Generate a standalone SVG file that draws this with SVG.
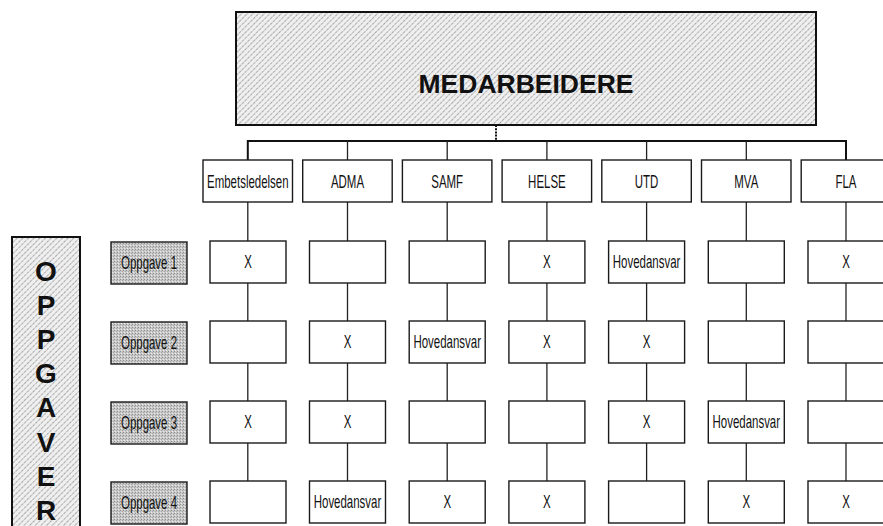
<svg xmlns="http://www.w3.org/2000/svg" width="883" height="526" viewBox="0 0 883 526">
<defs>
<pattern id="hatch" width="4" height="4" patternUnits="userSpaceOnUse" patternTransform="rotate(45)">
<rect width="4" height="4" fill="#efefef"/>
<line x1="0" y1="0" x2="0" y2="4" stroke="#7a7a7a" stroke-width="1.2" stroke-dasharray="2.5,1"/>
</pattern>
<pattern id="stipple" width="3" height="3" patternUnits="userSpaceOnUse">
<rect width="3" height="3" fill="#c8c8c8"/>
<rect x="0" y="0" width="1" height="1" fill="#8e8e8e"/>
<rect x="2" y="1" width="1" height="1" fill="#a6a6a6"/>
<rect x="1" y="2" width="1" height="1" fill="#ececec"/>
</pattern>
</defs>
<style>
.big{fill:url(#hatch);stroke:#111;stroke-width:2}
.box{fill:#fff;stroke:#1a1a1a;stroke-width:1.4}
.lbl{fill:url(#stipple);stroke:#1a1a1a;stroke-width:1.4}
.t{font-family:"Liberation Sans",Arial,sans-serif;font-size:18.5px;fill:#111;text-anchor:middle}
.h{font-family:"Liberation Sans",Arial,sans-serif;font-weight:bold;fill:#111;text-anchor:middle}
.c{stroke:#222;stroke-width:1.3;fill:none}
.ct{stroke:#111;stroke-width:2;fill:none}
</style>

<g id="medarbeidere">
<rect class="big" x="236" y="12" width="580" height="113"/>
<text class="h" x="526" y="93" font-size="26.5">MEDARBEIDERE</text>
</g>

<g id="oppgaver">
<rect class="big" x="12" y="237" width="68" height="300"/>
<text class="h" x="46" font-size="28"><tspan x="46" y="281">O</tspan><tspan x="46" y="315">P</tspan><tspan x="46" y="349">P</tspan><tspan x="46" y="383">G</tspan><tspan x="46" y="417">A</tspan><tspan x="46" y="452">V</tspan><tspan x="46" y="486">E</tspan><tspan x="46" y="520">R</tspan></text>
</g>

<g id="connectors">
<line class="ct" x1="496" y1="125" x2="496" y2="141" stroke-dasharray="2,1.2"/>
<polyline class="ct" points="247.8,161 247.8,141 846,141 846,161"/>
<line class="c" x1="347.5" y1="141" x2="347.5" y2="160"/>
<line class="c" x1="447.2" y1="141" x2="447.2" y2="160"/>
<line class="c" x1="546.9" y1="141" x2="546.9" y2="160"/>
<line class="c" x1="646.6" y1="141" x2="646.6" y2="160"/>
<line class="c" x1="746.3" y1="141" x2="746.3" y2="160"/>
<line class="c" x1="247.8" y1="202" x2="247.8" y2="481"/>
<line class="c" x1="347.5" y1="202" x2="347.5" y2="481"/>
<line class="c" x1="447.2" y1="202" x2="447.2" y2="481"/>
<line class="c" x1="546.9" y1="202" x2="546.9" y2="481"/>
<line class="c" x1="646.6" y1="202" x2="646.6" y2="481"/>
<line class="c" x1="746.3" y1="202" x2="746.3" y2="481"/>
<line class="c" x1="846" y1="202" x2="846" y2="481"/>
</g>

<g id="dept-embetsledelsen"><rect class="box" x="203" y="160" width="89.5" height="42"/><text class="t" transform="translate(247.8,187.5) scale(0.62,1)">Embetsledelsen</text></g>
<g id="dept-adma"><rect class="box" x="302.7" y="160" width="89.5" height="42"/><text class="t" transform="translate(347.5,187.5) scale(0.62,1)">ADMA</text></g>
<g id="dept-samf"><rect class="box" x="402.4" y="160" width="89.5" height="42"/><text class="t" transform="translate(447.2,187.5) scale(0.62,1)">SAMF</text></g>
<g id="dept-helse"><rect class="box" x="502.1" y="160" width="89.5" height="42"/><text class="t" transform="translate(546.9,187.5) scale(0.62,1)">HELSE</text></g>
<g id="dept-utd"><rect class="box" x="601.8" y="160" width="89.5" height="42"/><text class="t" transform="translate(646.6,187.5) scale(0.62,1)">UTD</text></g>
<g id="dept-mva"><rect class="box" x="701.5" y="160" width="89.5" height="42"/><text class="t" transform="translate(746.3,187.5) scale(0.62,1)">MVA</text></g>
<g id="dept-fla"><rect class="box" x="801.2" y="160" width="89.5" height="42"/><text class="t" transform="translate(846,187.5) scale(0.62,1)">FLA</text></g>

<g id="oppgave-1"><rect class="lbl" x="111" y="242" width="76" height="42"/><text class="t" transform="translate(149,268.5) scale(0.62,1)">Oppgave 1</text></g>
<g id="oppgave-2"><rect class="lbl" x="111" y="322" width="76" height="42"/><text class="t" transform="translate(149,348.5) scale(0.62,1)">Oppgave 2</text></g>
<g id="oppgave-3"><rect class="lbl" x="111" y="402" width="76" height="42"/><text class="t" transform="translate(149,428.5) scale(0.62,1)">Oppgave 3</text></g>
<g id="oppgave-4"><rect class="lbl" x="111" y="482" width="76" height="42"/><text class="t" transform="translate(149,508.5) scale(0.62,1)">Oppgave 4</text></g>

<g id="r1-emb"><rect class="box" x="210" y="241" width="76" height="42"/><text class="t" transform="translate(248,268) scale(0.62,1)">X</text></g>
<g id="r1-adma"><rect class="box" x="309.5" y="241" width="76" height="42"/></g>
<g id="r1-samf"><rect class="box" x="409.2" y="241" width="76" height="42"/></g>
<g id="r1-helse"><rect class="box" x="508.9" y="241" width="76" height="42"/><text class="t" transform="translate(546.9,268) scale(0.62,1)">X</text></g>
<g id="r1-utd"><rect class="box" x="608.6" y="241" width="76" height="42"/><text class="t" transform="translate(646.6,268) scale(0.62,1)">Hovedansvar</text></g>
<g id="r1-mva"><rect class="box" x="708.3" y="241" width="76" height="42"/></g>
<g id="r1-fla"><rect class="box" x="808" y="241" width="76" height="42"/><text class="t" transform="translate(846,268) scale(0.62,1)">X</text></g>

<g id="r2-emb"><rect class="box" x="210" y="321" width="76" height="42"/></g>
<g id="r2-adma"><rect class="box" x="309.5" y="321" width="76" height="42"/><text class="t" transform="translate(347.5,348) scale(0.62,1)">X</text></g>
<g id="r2-samf"><rect class="box" x="409.2" y="321" width="76" height="42"/><text class="t" transform="translate(447.2,348) scale(0.62,1)">Hovedansvar</text></g>
<g id="r2-helse"><rect class="box" x="508.9" y="321" width="76" height="42"/><text class="t" transform="translate(546.9,348) scale(0.62,1)">X</text></g>
<g id="r2-utd"><rect class="box" x="608.6" y="321" width="76" height="42"/><text class="t" transform="translate(646.6,348) scale(0.62,1)">X</text></g>
<g id="r2-mva"><rect class="box" x="708.3" y="321" width="76" height="42"/></g>
<g id="r2-fla"><rect class="box" x="808" y="321" width="76" height="42"/></g>

<g id="r3-emb"><rect class="box" x="210" y="401" width="76" height="42"/><text class="t" transform="translate(248,428) scale(0.62,1)">X</text></g>
<g id="r3-adma"><rect class="box" x="309.5" y="401" width="76" height="42"/><text class="t" transform="translate(347.5,428) scale(0.62,1)">X</text></g>
<g id="r3-samf"><rect class="box" x="409.2" y="401" width="76" height="42"/></g>
<g id="r3-helse"><rect class="box" x="508.9" y="401" width="76" height="42"/></g>
<g id="r3-utd"><rect class="box" x="608.6" y="401" width="76" height="42"/><text class="t" transform="translate(646.6,428) scale(0.62,1)">X</text></g>
<g id="r3-mva"><rect class="box" x="708.3" y="401" width="76" height="42"/><text class="t" transform="translate(746.3,428) scale(0.62,1)">Hovedansvar</text></g>
<g id="r3-fla"><rect class="box" x="808" y="401" width="76" height="42"/></g>

<g id="r4-emb"><rect class="box" x="210" y="481" width="76" height="42"/></g>
<g id="r4-adma"><rect class="box" x="309.5" y="481" width="76" height="42"/><text class="t" transform="translate(347.5,508) scale(0.62,1)">Hovedansvar</text></g>
<g id="r4-samf"><rect class="box" x="409.2" y="481" width="76" height="42"/><text class="t" transform="translate(447.2,508) scale(0.62,1)">X</text></g>
<g id="r4-helse"><rect class="box" x="508.9" y="481" width="76" height="42"/><text class="t" transform="translate(546.9,508) scale(0.62,1)">X</text></g>
<g id="r4-utd"><rect class="box" x="608.6" y="481" width="76" height="42"/></g>
<g id="r4-mva"><rect class="box" x="708.3" y="481" width="76" height="42"/><text class="t" transform="translate(746.3,508) scale(0.62,1)">X</text></g>
<g id="r4-fla"><rect class="box" x="808" y="481" width="76" height="42"/><text class="t" transform="translate(846,508) scale(0.62,1)">X</text></g>
</svg>
